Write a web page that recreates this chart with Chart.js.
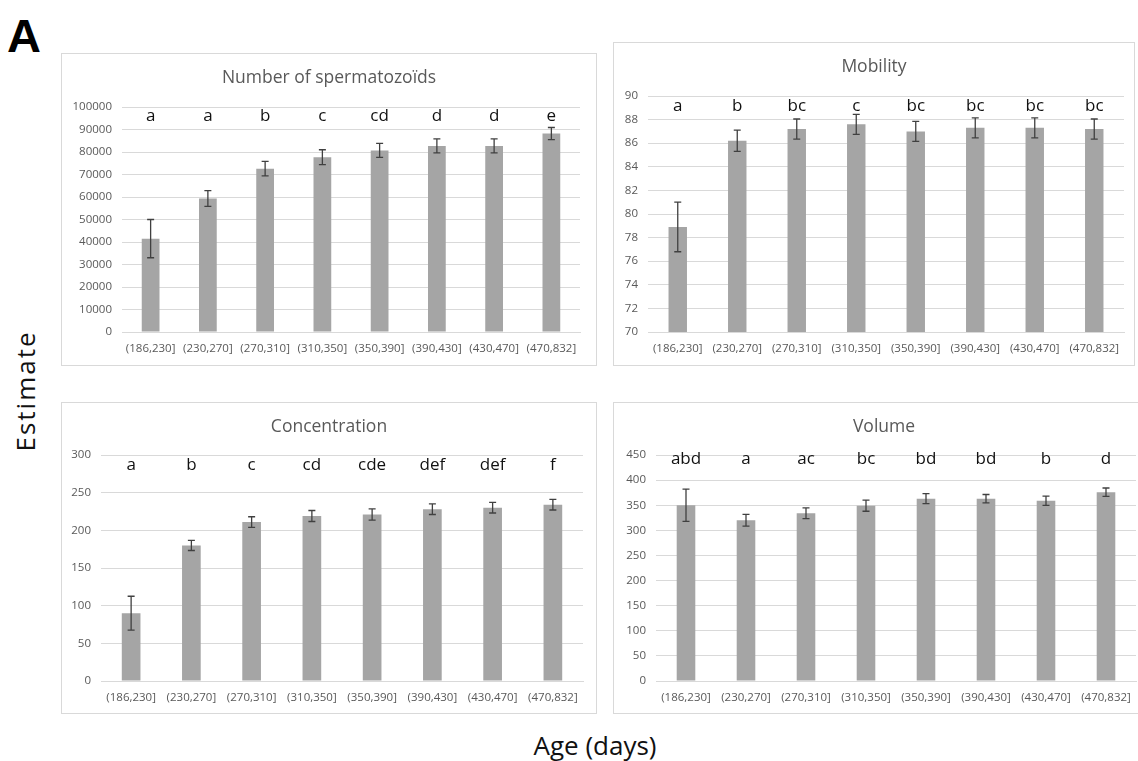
<!DOCTYPE html>
<html lang="en">
<head>
    <meta charset="UTF-8">
    <title>Estimate by age</title>
    <script src="https://cdn.jsdelivr.net/npm/chart.js"></script>
    <style>
        body { margin: 0; width: 1138px; height: 761px; background: #fff; position: relative; overflow: hidden; font-family: "Open Sans", sans-serif; }
        .panel { position: absolute; border: 1px solid #d9d9d9; box-sizing: border-box; background: #fff; }
        .panel-title { position: absolute; left: 0; right: 0; text-align: center; font-size: 17.5px; color: #595959; line-height: 1; }
        #letterA { position: absolute; left: 7px; top: 8px; font: bold 47px "Liberation Sans", Arial, sans-serif; color: #000; }
        #ylabel { position: absolute; left: 25px; top: 391px; transform: translate(-50%, -50%) rotate(-90deg); font-size: 26px; letter-spacing: 2px; color: #111; white-space: nowrap; }
        #xlabel { position: absolute; left: 595px; top: 745px; transform: translate(-50%, -50%); font-size: 26px; color: #111; white-space: nowrap; }
    </style>
</head>
<body>
    <div id="letterA">A</div>
    <div id="ylabel">Estimate</div>
    <div id="xlabel">Age (days)</div>

    <div class="panel" style="left:61px; top:53px; width:536px; height:313px;">
        <div class="panel-title" style="top:14px;">Number of spermatozoïds</div>
        <canvas id="countChart"></canvas>
    </div>
    <div class="panel" style="left:613px; top:42px; width:522px; height:324px;">
        <div class="panel-title" style="top:14px;">Mobility</div>
        <canvas id="mobilityChart"></canvas>
    </div>
    <div class="panel" style="left:61px; top:402px; width:536px; height:312px;">
        <div class="panel-title" style="top:14px;">Concentration</div>
        <canvas id="concentrationChart"></canvas>
    </div>
    <div class="panel" style="left:613px; top:402px; width:542px; height:312px;">
        <div class="panel-title" style="top:14px;">Volume</div>
        <canvas id="volumeChart"></canvas>
    </div>

    <script>
        const categories = ['(186,230]', '(230,270]', '(270,310]', '(310,350]', '(350,390]', '(390,430]', '(430,470]', '(470,832]'];

        const spermCount = [41500, 59300, 72600, 77700, 80700, 82700, 82700, 88200];
        const spermCountErr = [8500, 3500, 3200, 3300, 3100, 3100, 3100, 2700];
        const spermCountLetters = ['a', 'a', 'b', 'c', 'cd', 'd', 'd', 'e'];

        const mobility = [78.9, 86.2, 87.2, 87.6, 87.0, 87.3, 87.3, 87.2];
        const mobilityErr = [2.1, 0.9, 0.85, 0.85, 0.85, 0.85, 0.85, 0.85];
        const mobilityLetters = ['a', 'b', 'bc', 'c', 'bc', 'bc', 'bc', 'bc'];

        const concentration = [90, 180, 211, 219, 221, 228, 230, 234];
        const concentrationErr = [22.5, 6.8, 7, 7.3, 7.5, 7, 7, 7];
        const concentrationLetters = ['a', 'b', 'c', 'cd', 'cde', 'def', 'def', 'f'];

        const volume = [350, 320, 334, 349, 363, 363, 359, 376];
        const volumeErr = [32, 11.7, 10.6, 11, 10, 8.3, 9.3, 8.3];
        const volumeLetters = ['abd', 'a', 'ac', 'bc', 'bd', 'bd', 'b', 'd'];

        Chart.defaults.font.family = '"Open Sans", sans-serif';
        Chart.defaults.color = '#595959';

        // error bars + significance letters on top of the bars
        const errorBarsAndLetters = {
            id: 'errorBarsAndLetters',
            afterDatasetsDraw(chart, args, opts) {
                const ctx = chart.ctx;
                const yScale = chart.scales.y;
                const meta = chart.getDatasetMeta(0);
                const values = chart.data.datasets[0].data;
                ctx.save();
                ctx.strokeStyle = '#404040';
                ctx.lineWidth = 1.3;
                meta.data.forEach((bar, i) => {
                    const yTop = yScale.getPixelForValue(values[i] + opts.errors[i]);
                    const yBot = yScale.getPixelForValue(values[i] - opts.errors[i]);
                    ctx.beginPath();
                    ctx.moveTo(bar.x, yTop);
                    ctx.lineTo(bar.x, yBot);
                    ctx.moveTo(bar.x - 3.5, yTop);
                    ctx.lineTo(bar.x + 3.5, yTop);
                    ctx.moveTo(bar.x - 3.5, yBot);
                    ctx.lineTo(bar.x + 3.5, yBot);
                    ctx.stroke();
                });
                ctx.fillStyle = '#111';
                ctx.font = '17px "Open Sans", sans-serif';
                ctx.textAlign = 'center';
                ctx.textBaseline = 'middle';
                meta.data.forEach((bar, i) => {
                    ctx.fillText(opts.letters[i], bar.x, chart.chartArea.top + opts.letterOffset);
                });
                ctx.restore();
            }
        };

        function makeChart(id, values, errors, letters, yMin, yMax, step, pad, letterOffset) {
            const ctx = document.getElementById(id).getContext('2d');
            return new Chart(ctx, {
                type: 'bar',
                data: {
                    labels: categories,
                    datasets: [{
                        data: values,
                        backgroundColor: '#a5a5a5',
                        categoryPercentage: 1,
                        barPercentage: 0.31
                    }]
                },
                options: {
                    responsive: true,
                    maintainAspectRatio: false,
                    animation: false,
                    layout: { padding: { left: 0, top: pad.top, right: pad.right, bottom: 0 } },
                    plugins: {
                        legend: { display: false },
                        tooltip: { enabled: false },
                        errorBarsAndLetters: { errors: errors, letters: letters, letterOffset: letterOffset }
                    },
                    scales: {
                        x: {
                            grid: { display: false, drawTicks: false },
                            border: { color: '#d9d9d9', width: 1 },
                            ticks: { font: { size: 11.5 }, padding: 10, maxRotation: 0, autoSkip: false },
                            afterFit(scale) { scale.height = pad.bottom; }
                        },
                        y: {
                            min: yMin,
                            max: yMax,
                            grid: { color: '#d9d9d9', drawTicks: false },
                            border: { display: false },
                            ticks: { stepSize: step, font: { size: 11.5 }, padding: 10, callback: v => String(v) },
                            afterFit(scale) { scale.width = pad.left; }
                        }
                    }
                },
                plugins: [errorBarsAndLetters]
            });
        }

        makeChart('countChart', spermCount, spermCountErr, spermCountLetters, 0, 100000, 10000,
            { left: 60, top: 53, right: 16, bottom: 33 }, 9);
        makeChart('mobilityChart', mobility, mobilityErr, mobilityLetters, 70, 90, 2,
            { left: 34, top: 53, right: 10, bottom: 33 }, 10);
        makeChart('concentrationChart', concentration, concentrationErr, concentrationLetters, 0, 300, 50,
            { left: 39, top: 52, right: 13, bottom: 32 }, 10);
        makeChart('volumeChart', volume, volumeErr, volumeLetters, 0, 450, 50,
            { left: 42, top: 52, right: 18, bottom: 32 }, 4);
    </script>
</body>
</html>
